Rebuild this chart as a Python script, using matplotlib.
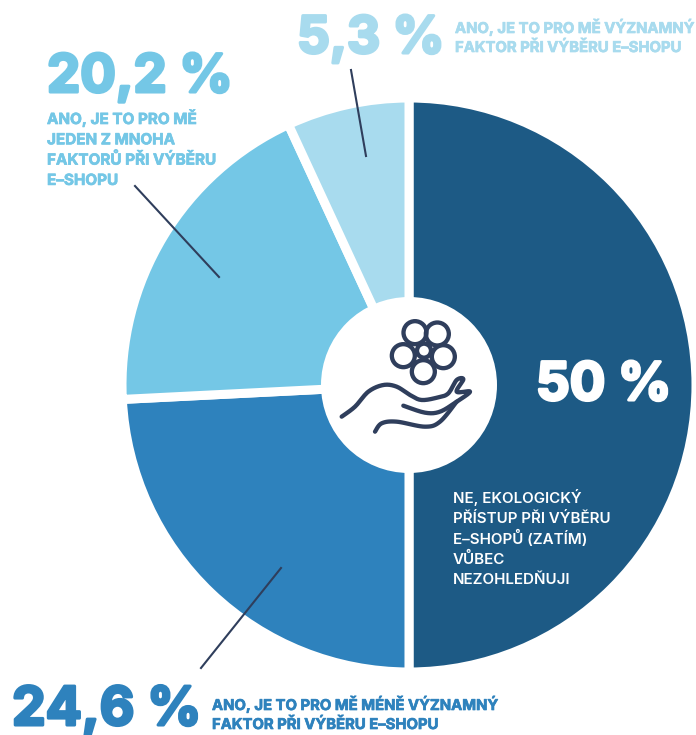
"""
Donut chart of how much an ecological approach matters when choosing an e-shop.
"""

import numpy as np
import matplotlib.pyplot as plt
from matplotlib.patches import Circle
import matplotlib.patheffects as pe

# slices, clockwise from the top
# the drawn slices do not follow the printed percentages exactly, so these are
# read from the slice angles in the picture and the printed values are in percentLabels
sliceShares = [50, 24.2, 18.9, 6.9]
colors = ["#1d5a85", "#2e82bd", "#74c7e6", "#a8dbee"]
percentLabels = ["50 %", "24,6 %", "20,2 %", "5,3 %"]
descriptions = [
    "NE, EKOLOGICKÝ\nPŘÍSTUP PŘI VÝBĚRU\nE–SHOPŮ (ZATÍM)\nVŮBEC\nNEZOHLEDŇUJI",
    "ANO, JE TO PRO MĚ MÉNĚ VÝZNAMNÝ\nFAKTOR PŘI VÝBĚRU E–SHOPU",
    "ANO, JE TO PRO MĚ\nJEDEN Z MNOHA\nFAKTORŮ PŘI VÝBĚRU\nE–SHOPU",
    "ANO, JE TO PRO MĚ VÝZNAMNÝ\nFAKTOR PŘI VÝBĚRU E–SHOPU",
]

W, H = 696, 735
DARK = "#2f3e5c"
FONT = "Inter"


def py(y):
    # picture y (from the top) to axes y
    return H - y


def bigText(x, y, s, color, size=38):
    t = ax.text(x, py(y), s, color=color, fontsize=size, fontweight="bold",
                family=FONT, va="baseline", ha="left")
    t.set_path_effects([pe.withStroke(linewidth=2.2, foreground=color)])


def smallText(x, y, s, color, size=10.7, step=20.3, weight="bold", thick=0.5):
    for i, line in enumerate(s.split("\n")):
        t = ax.text(x, py(y + i * step), line, color=color, fontsize=size,
                    fontweight=weight, family=FONT, va="baseline", ha="left")
        if thick:
            t.set_path_effects([pe.withStroke(linewidth=thick, foreground=color)])


def stroke(points, lw=3.1):
    # catmull-rom smoothing so the hand outline does not look polygonal
    p = np.array([points[0]] + points + [points[-1]], dtype=float)
    t = np.linspace(0, 1, 12)[:, None]
    curve = []
    for i in range(1, len(p) - 2):
        p0, p1, p2, p3 = p[i - 1], p[i], p[i + 1], p[i + 2]
        curve.append(0.5 * (2 * p1 + (p2 - p0) * t + (2 * p0 - 5 * p1 + 4 * p2 - p3) * t ** 2
                            + (3 * p1 - p0 - 3 * p2 + p3) * t ** 3))
    curve = np.vstack(curve)
    ax.plot(300 + curve[:, 0] / 3, py(290 + curve[:, 1] / 3), color=DARK, lw=lw,
            solid_capstyle="round", solid_joinstyle="round", zorder=5)


fig = plt.figure(figsize=(W / 100, H / 100), dpi=100)
ax = fig.add_axes([0, 0, 1, 1])

cx, cy = 409, py(385)
ax.pie(sliceShares, colors=colors, startangle=90, counterclock=False, center=(cx, cy), radius=287,
       wedgeprops=dict(edgecolor="white", linewidth=6.5, joinstyle="round"))
ax.add_patch(Circle((cx, cy), 88, facecolor="white", edgecolor="none", zorder=3))
ax.set_xlim(0, W)
ax.set_ylim(0, H)

# leader lines
for (x0, y0), (x1, y1) in [((351, 70), (366, 156)), ((135, 186), (219, 277)), ((281, 568), (201, 668))]:
    ax.plot([x0, x1], [py(y0), py(y1)], color=DARK, lw=1.5, zorder=4)

# flower icon
for zx, zy, r in [(345, 128, 11.5), (412, 132, 11.5), (430, 200, 11.5), (370, 245, 11.5), (310, 197, 11.5), (372, 182, 7)]:
    ax.add_patch(Circle((300 + zx / 3, py(290 + zy / 3)), r, facecolor="none", edgecolor=DARK, lw=3.1, zorder=5))

# hand icon
stroke([(125, 380), (165, 350), (205, 305), (250, 285), (290, 290), (330, 315), (365, 330), (415, 322),
        (445, 310), (470, 270), (490, 268), (470, 305), (510, 305), (470, 335), (420, 365), (375, 368), (310, 347)])
stroke([(225, 425), (245, 400), (290, 395), (375, 410), (420, 395), (470, 335)])

# labels
bigText(536, 400, percentLabels[0], "white", size=38)
bigText(12, 725, percentLabels[1], colors[1], size=38.5)
bigText(47, 92, percentLabels[2], colors[2], size=38)
bigText(297, 53, percentLabels[3], colors[3], size=37)

smallText(453, 503, descriptions[0], "white", size=10.9, weight="semibold", thick=0)
smallText(212, 710, descriptions[1], colors[1], step=19)
smallText(47, 124, descriptions[2], colors[2], size=11)
smallText(455, 33, descriptions[3], colors[3], step=19)

plt.savefig("out.png", dpi=100)
